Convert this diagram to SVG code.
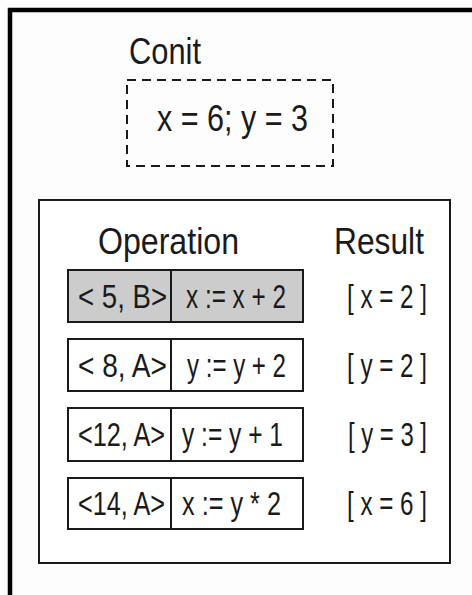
<svg xmlns="http://www.w3.org/2000/svg" width="472" height="595" viewBox="0 0 472 595">
<style>
text{font-family:"Liberation Sans",Arial,sans-serif;fill:#1a1a1a}
.big{font-size:36px}
.cell{font-size:33px}
.box{fill:#fff;stroke:#1a1a1a;stroke-width:2}
.gray{fill:#cccccc}
</style>
<rect x="0" y="0" width="472" height="595" fill="#fdfdfd"/>
<path d="M10 595 V10 H472" fill="none" stroke="#000" stroke-width="4.5"/>
<g id="conit">
<text class="big" x="129" y="64" textLength="72" lengthAdjust="spacingAndGlyphs">Conit</text>
<rect x="127" y="80" width="206" height="86" fill="none" stroke="#1a1a1a" stroke-width="2" stroke-dasharray="9,6"/>
<text class="big" x="157" y="131" textLength="151" lengthAdjust="spacingAndGlyphs">x = 6; y = 3</text>
</g>
<g id="table">
<rect class="box" x="39" y="200" width="411" height="363"/>
<text class="big" x="98" y="254" textLength="141" lengthAdjust="spacingAndGlyphs">Operation</text>
<text class="big" x="334" y="254" textLength="90" lengthAdjust="spacingAndGlyphs">Result</text>
</g>
<g id="row1">
<rect class="box gray" x="68" y="270" width="235" height="52"/>
<line x1="171" y1="270" x2="171" y2="322" stroke="#1a1a1a" stroke-width="2"/>
<text class="cell" x="78" y="308" textLength="89" lengthAdjust="spacingAndGlyphs">&lt; 5, B&gt;</text>
<text class="cell" x="186" y="308" textLength="100" lengthAdjust="spacingAndGlyphs">x := x + 2</text>
<text class="cell" x="347" y="308" textLength="80" lengthAdjust="spacingAndGlyphs">[ x = 2 ]</text>
</g>
<g id="row2">
<rect class="box" x="68" y="339" width="235" height="52"/>
<line x1="171" y1="339" x2="171" y2="391" stroke="#1a1a1a" stroke-width="2"/>
<text class="cell" x="78" y="377" textLength="89" lengthAdjust="spacingAndGlyphs">&lt; 8, A&gt;</text>
<text class="cell" x="187" y="377" textLength="99" lengthAdjust="spacingAndGlyphs">y := y + 2</text>
<text class="cell" x="347" y="377" textLength="80" lengthAdjust="spacingAndGlyphs">[ y = 2 ]</text>
</g>
<g id="row3">
<rect class="box" x="68" y="408" width="235" height="53"/>
<line x1="171" y1="408" x2="171" y2="461" stroke="#1a1a1a" stroke-width="2"/>
<text class="cell" x="78" y="446" textLength="87" lengthAdjust="spacingAndGlyphs">&lt;12, A&gt;</text>
<text class="cell" x="182" y="446" textLength="101" lengthAdjust="spacingAndGlyphs">y := y + 1</text>
<text class="cell" x="348" y="446" textLength="79" lengthAdjust="spacingAndGlyphs">[ y = 3 ]</text>
</g>
<g id="row4">
<rect class="box" x="68" y="478" width="235" height="51"/>
<line x1="171" y1="478" x2="171" y2="529" stroke="#1a1a1a" stroke-width="2"/>
<text class="cell" x="78" y="515" textLength="87" lengthAdjust="spacingAndGlyphs">&lt;14, A&gt;</text>
<text class="cell" x="182" y="515" textLength="99" lengthAdjust="spacingAndGlyphs">x := y * 2</text>
<text class="cell" x="347" y="515" textLength="80" lengthAdjust="spacingAndGlyphs">[ x = 6 ]</text>
</g>
<g id="connectors"></g>
</svg>
